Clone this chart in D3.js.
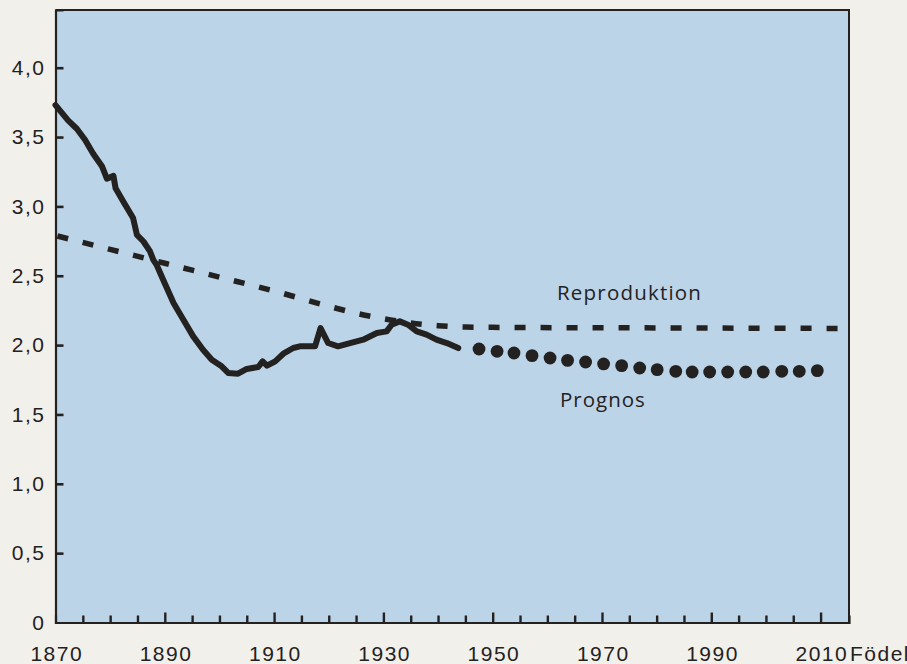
<!DOCTYPE html>
<html>
<head>
<meta charset="utf-8">
<script src="https://cdn.jsdelivr.net/npm/d3@7"></script>
<style>
  html, body { margin: 0; padding: 0; background: #f2f0eb; }
  svg { display: block; }
</style>
</head>
<body>
<svg id="chart" width="907" height="664"></svg>
<script>
// ---- data ----
const observedYears = [1870.0,1872.3,1873.9,1875.4,1876.9,1878.5,1879.4,1880.6,1881.0,1882.4,1884.2,1884.9,1886.1,1887.3,1887.9,1888.5,1889.7,1891.6,1893.4,1895.2,1897.0,1898.6,1900.4,1901.6,1903.4,1905.0,1907.1,1907.9,1908.7,1910.2,1911.7,1913.5,1914.7,1917.5,1918.5,1919.9,1921.7,1923.9,1926.3,1928.8,1930.6,1931.5,1933.0,1934.5,1936.1,1937.9,1939.7,1941.6,1943.7];
const observedValues = [3.73,3.62,3.56,3.48,3.38,3.29,3.20,3.22,3.13,3.035,2.916,2.795,2.747,2.675,2.615,2.579,2.471,2.303,2.183,2.063,1.967,1.895,1.847,1.799,1.794,1.828,1.842,1.883,1.852,1.883,1.938,1.979,1.991,1.991,2.123,2.015,1.991,2.015,2.039,2.087,2.099,2.147,2.171,2.147,2.099,2.075,2.039,2.015,1.979];

const prognosYears = [1947.5,1950.8,1953.9,1957.2,1960.5,1963.7,1967.0,1970.3,1973.6,1976.9,1980.1,1983.5,1986.5,1989.7,1993.0,1996.3,1999.5,2002.9,2006.1,2009.4];
const prognosValues = [1.972,1.955,1.943,1.924,1.907,1.890,1.878,1.864,1.852,1.835,1.823,1.811,1.806,1.806,1.806,1.806,1.806,1.811,1.811,1.816];

const reproYears  = [1870,1880,1890,1900,1910,1920,1925,1930,1935,1940,1945,1950,1980,2015];
const reproValues = [2.79,2.69,2.59,2.49,2.39,2.28,2.23,2.19,2.16,2.14,2.13,2.128,2.124,2.12];

const xTickYears  = d3.range(1875, 2011, 5);
const xLabelYears = [1870,1890,1910,1930,1950,1970,1990,2010];
const yTickValues = [0,0.5,1,1.5,2,2.5,3,3.5,4];
const xAxisTitle = "Födelseår";
const labelRepro = "Reproduktion";
const labelPrognos = "Prognos";

// ---- layout ----
const ink = "#242121";
const numFont = "'Liberation Sans', Arial, sans-serif";
const txtFont = "'Open Sans', 'Noto Sans', sans-serif";
const svg = d3.select("#chart");
const x = d3.scaleLinear().domain([1870, 2015.2]).range([55.5, 849]);
const y = d3.scaleLinear().domain([0, 4.416]).range([622.5, 10]);

// plot area
svg.append("rect")
  .attr("x", x(1870)).attr("y", y(4.416))
  .attr("width", x(2015.2) - x(1870)).attr("height", y(0) - y(4.416))
  .attr("fill", "#bcd4e8");

// frame top & right
svg.append("path")
  .attr("d", `M${x(1870)},${y(4.416)}H${x(2015.2)}V${y(0)}`)
  .attr("fill", "none").attr("stroke", ink).attr("stroke-width", 2);

// Y axis
const yAxis = d3.axisLeft(y)
  .tickValues(yTickValues)
  .tickSize(-8)
  .tickPadding(10)
  .tickFormat(d => d === 0 ? "0" : d3.format(".1f")(d).replace(".", ","));
const gy = svg.append("g").attr("transform", `translate(${x(1870)},0)`).call(yAxis);
gy.select(".domain").attr("stroke", ink).attr("stroke-width", 2.2);
gy.selectAll(".tick line").attr("stroke", ink).attr("stroke-width", 2.6)
  .attr("display", d => d === 0 ? "none" : null);
gy.selectAll(".tick text")
  .attr("fill", ink)
  .style("font-family", numFont)
  .style("font-size", "21px")
  .style("letter-spacing", "1.5px");

// X axis ticks
const xAxis = d3.axisBottom(x)
  .tickValues(xTickYears)
  .tickSize(-7)
  .tickFormat("");
const gx = svg.append("g").attr("transform", `translate(0,${y(0)})`).call(xAxis);
gx.select(".domain").attr("stroke", ink).attr("stroke-width", 2.2);
gx.selectAll(".tick line").attr("stroke", ink).attr("stroke-width", 2.4)
  .attr("y2", d => (d % 20 === 10) ? -10 : -7);

// X labels
const xLabels = d3.axisBottom(x).tickValues(xLabelYears).tickSize(0).tickPadding(0)
  .tickFormat(d3.format("d"));
const gxl = svg.append("g").attr("transform", `translate(0,${y(0)})`).call(xLabels);
gxl.select(".domain").remove();
gxl.selectAll(".tick text")
  .attr("fill", ink)
  .attr("y", 38).attr("dy", null)
  .attr("dx", "0.75px")
  .style("font-family", numFont)
  .style("font-size", "21px")
  .style("letter-spacing", "1.5px");

svg.append("text")
  .attr("x", 850).attr("y", 660.5)
  .attr("fill", ink)
  .style("font-family", numFont)
  .style("font-size", "21px")
  .style("letter-spacing", "1.5px")
  .text(xAxisTitle);

// reproduction dashed line
const reproLine = d3.line().x(d => x(d[0])).y(d => y(d[1])).curve(d3.curveMonotoneX);
svg.append("path")
  .datum(reproYears.map((yr, i) => [yr, reproValues[i]]))
  .attr("d", reproLine)
  .attr("fill", "none").attr("stroke", ink)
  .attr("stroke-width", 5.5)
  .attr("stroke-dasharray", "11 15")
  .attr("stroke-dashoffset", -2);

// observed solid line
const obsLine = d3.line().x(d => x(d[0])).y(d => y(d[1]));
svg.append("path")
  .datum(observedYears.map((yr, i) => [yr, observedValues[i]]))
  .attr("d", obsLine)
  .attr("fill", "none").attr("stroke", ink)
  .attr("stroke-width", 6)
  .attr("stroke-linejoin", "round").attr("stroke-linecap", "round");

// prognosis dots
svg.append("g").selectAll("circle")
  .data(prognosYears.map((yr, i) => [yr, prognosValues[i]]))
  .join("circle")
  .attr("cx", d => x(d[0])).attr("cy", d => y(d[1]))
  .attr("r", 6.4).attr("fill", ink);

// labels
svg.append("text")
  .attr("x", 557).attr("y", 300)
  .attr("fill", ink)
  .style("font-family", txtFont)
  .style("font-size", "20.5px")
  .style("letter-spacing", "1.2px")
  .text(labelRepro);
svg.append("text")
  .attr("x", 560).attr("y", 407)
  .attr("fill", ink)
  .style("font-family", txtFont)
  .style("font-size", "20.5px")
  .style("letter-spacing", "1px")
  .text(labelPrognos);
</script>
</body>
</html>
